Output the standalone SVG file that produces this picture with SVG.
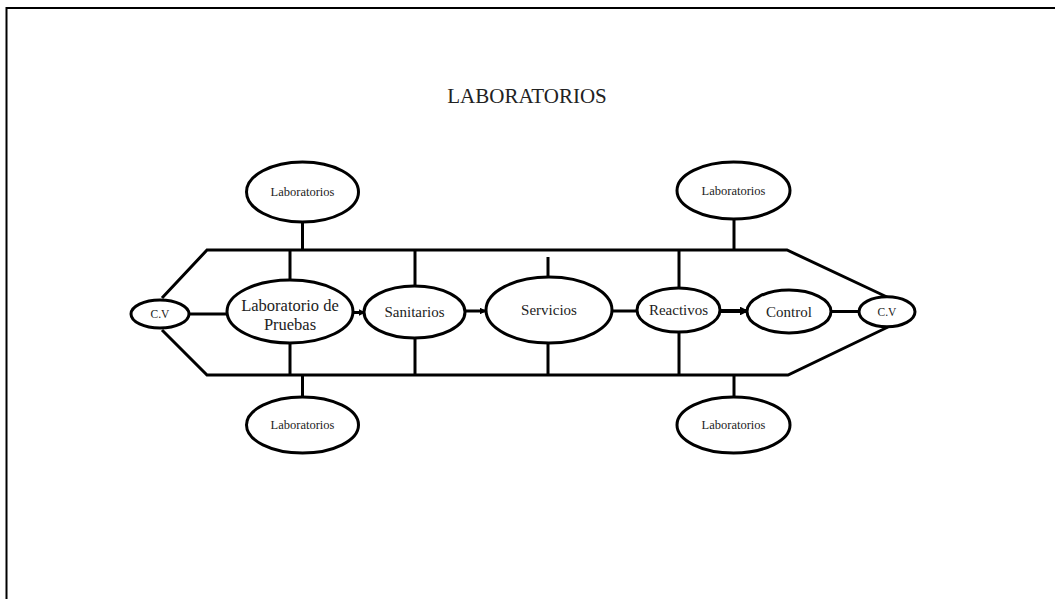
<svg xmlns="http://www.w3.org/2000/svg" width="1055" height="599" viewBox="0 0 1055 599">
<style>
  .n { fill: #ffffff; stroke: #000000; stroke-width: 3; }
  .c { fill: none; stroke: #000000; stroke-width: 3; stroke-linejoin: miter; }
  text { font-family: "Liberation Serif", "Times New Roman", serif; fill: #222222; text-anchor: middle; }
  .s13 { font-size: 12.5px; }
  .s15 { font-size: 15px; }
  .s16 { font-size: 16.5px; }
  .s12 { font-size: 11.5px; }
</style>
<defs>
  <marker id="ah" viewBox="0 0 6 6" refX="5.5" refY="3" markerWidth="2.2" markerHeight="2.2" orient="auto" markerUnits="strokeWidth">
    <path d="M0,0 L6,3 L0,6 Z" fill="#000000"/>
  </marker>
</defs>
<rect width="1055" height="599" fill="#ffffff"/>
<g id="frame">
  <path d="M6.5,599 V8 H1055" fill="none" stroke="#000000" stroke-width="2"/>
</g>
<g id="title">
  <text x="527" y="103" style="font-size:21px">LABORATORIOS</text>
</g>
<g id="connectors">
  <path class="c" d="M162,298 L207,250 H787 L887,297"/>
  <path class="c" d="M162,330 L207,375 H788 L888,327"/>
  <line class="c" x1="302.5" y1="222" x2="302.5" y2="250"/>
  <line class="c" x1="302.5" y1="374" x2="302.5" y2="397"/>
  <line class="c" x1="734" y1="219" x2="734" y2="250"/>
  <line class="c" x1="734" y1="374" x2="734" y2="397"/>
  <line class="c" x1="290" y1="250" x2="290" y2="280"/>
  <line class="c" x1="290" y1="343" x2="290" y2="375"/>
  <line class="c" x1="415" y1="250" x2="415" y2="287"/>
  <line class="c" x1="415" y1="338" x2="415" y2="375"/>
  <line class="c" x1="548" y1="257" x2="548" y2="277"/>
  <line class="c" x1="548" y1="343" x2="548" y2="374"/>
  <line class="c" x1="679" y1="250" x2="679" y2="288"/>
  <line class="c" x1="679" y1="332" x2="679" y2="374"/>
  <line class="c" x1="189" y1="314" x2="227" y2="314"/>
  <line class="c" x1="353" y1="312.5" x2="365" y2="312.5" marker-end="url(#ah)"/>
  <line class="c" x1="465" y1="311" x2="486" y2="311" marker-end="url(#ah)"/>
  <line class="c" x1="612" y1="311" x2="637" y2="311"/>
  <line class="c" x1="720" y1="311" x2="748" y2="311" marker-end="url(#ah)" style="stroke-width:4"/>
  <line class="c" x1="831" y1="311.5" x2="859" y2="311.5"/>
</g>
<g id="cv-left">
  <ellipse class="n" cx="160" cy="314" rx="29" ry="14"/>
  <text class="s12" x="160" y="318">C.V</text>
</g>
<g id="lab-top-left">
  <ellipse class="n" cx="302.5" cy="192" rx="56" ry="30"/>
  <text class="s13" x="302.5" y="196">Laboratorios</text>
</g>
<g id="lab-bottom-left">
  <ellipse class="n" cx="302.5" cy="425" rx="56" ry="28"/>
  <text class="s13" x="302.5" y="429">Laboratorios</text>
</g>
<g id="lab-pruebas">
  <ellipse class="n" cx="290" cy="311.5" rx="63" ry="31.5"/>
  <text class="s16" x="290" y="311">Laboratorio de</text>
  <text class="s16" x="290" y="330">Pruebas</text>
</g>
<g id="sanitarios">
  <ellipse class="n" cx="414.5" cy="312" rx="50.5" ry="26"/>
  <text class="s15" x="414.5" y="317">Sanitarios</text>
</g>
<g id="servicios">
  <ellipse class="n" cx="549" cy="310" rx="63" ry="33"/>
  <text class="s15" x="549" y="315">Servicios</text>
</g>
<g id="reactivos">
  <ellipse class="n" cx="678.5" cy="310" rx="41.5" ry="22"/>
  <text class="s15" x="678.5" y="315">Reactivos</text>
</g>
<g id="control">
  <ellipse class="n" cx="789" cy="311.5" rx="42" ry="21.5"/>
  <text class="s15" x="789" y="316.5">Control</text>
</g>
<g id="cv-right">
  <ellipse class="n" cx="887" cy="311.7" rx="28" ry="15"/>
  <text class="s12" x="887" y="315.7">C.V</text>
</g>
<g id="lab-top-right">
  <ellipse class="n" cx="733.5" cy="190.5" rx="56.5" ry="28.5"/>
  <text class="s13" x="733.5" y="194.5">Laboratorios</text>
</g>
<g id="lab-bottom-right">
  <ellipse class="n" cx="733.5" cy="425" rx="56.5" ry="28"/>
  <text class="s13" x="733.5" y="429">Laboratorios</text>
</g>
</svg>
